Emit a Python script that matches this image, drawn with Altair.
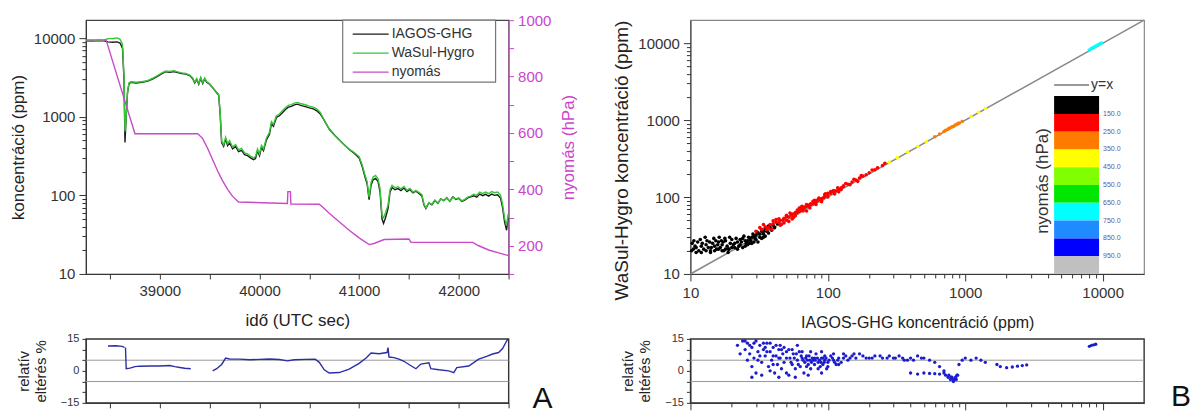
import altair as alt
import pandas as pd

FONT = "Liberation Sans"

# ---------------- Panel A : time series ----------------
t_conc = [38260, 38320, 38380, 38440, 38480, 38530, 38570, 38600, 38625, 38640,
          38650, 38660, 38675, 38690, 38710, 38760, 38820, 38880, 38930, 38980,
          39020, 39060, 39100, 39140, 39180, 39220, 39260, 39300, 39330, 39350,
          39370, 39390, 39410, 39430, 39450, 39470, 39500, 39530, 39560, 39590,
          39605, 39620, 39640, 39660, 39680, 39700, 39730, 39760, 39790, 39820,
          39850, 39880, 39910, 39940, 39960, 39980, 40000, 40020, 40040, 40070,
          40100, 40120, 40140, 40170, 40200, 40230, 40260, 40290, 40320, 40350,
          40380, 40420, 40460, 40500, 40540, 40580, 40610, 40650, 40700, 40750,
          40800, 40850, 40900, 40950, 41000, 41030, 41060, 41080, 41100, 41120,
          41140, 41165, 41190, 41210, 41230, 41245, 41265, 41290, 41310, 41330,
          41360, 41390, 41420, 41450, 41480, 41510, 41540, 41570, 41600, 41630,
          41650, 41670, 41700, 41730, 41760, 41790, 41820, 41850, 41880, 41910,
          41940, 41970, 42000, 42030, 42060, 42090, 42120, 42150, 42180, 42210,
          42240, 42270, 42300, 42330, 42360, 42390, 42420, 42440, 42460, 42480,
          42495]
iagos_ghg = [9300, 9200, 9350, 9300, 9000, 8900, 9000, 8700, 7500, 3000,
             470, 900, 2000, 2650, 2750, 2700, 2750, 2850, 3050, 3300,
             3550, 3750, 3700, 3780, 3650, 3550, 3500, 3350, 3050, 2700,
             3000, 2600, 3100, 2650, 3050, 2750, 2600, 2350, 2100, 1900,
             1100, 470, 420, 520, 430, 470, 390, 420, 360, 375,
             330, 320, 300, 285, 295, 370, 320, 410, 370, 510,
             600, 820, 760, 980, 1030, 1130, 1240, 1330, 1360, 1420,
             1450, 1390, 1350, 1300, 1260, 1180, 1090, 900, 700, 590,
             510, 440, 385, 345, 300, 235, 170, 140, 88, 135,
             158, 165, 150, 110, 50, 44, 52, 68, 110, 126,
             118, 122, 115, 124, 112, 119, 108, 113, 106, 98,
             76, 68, 80, 76, 86, 79, 90, 86, 93, 84,
             96, 89, 92, 84, 87, 93, 96, 99, 95, 104,
             99, 103, 98, 104, 100, 102, 92, 70, 46, 36,
             52]
wasul_hygro = [9350, 9300, 9400, 9450, 9900, 9950, 10100, 9700, 8400, 3300,
               650, 910, 2050, 2700, 2800, 2750, 2800, 2900, 3100, 3380,
               3630, 3830, 3780, 3860, 3730, 3620, 3560, 3400, 3120, 2760,
               3070, 2660, 3170, 2710, 3120, 2810, 2640, 2350, 2120, 1940,
               1140, 490, 440, 550, 455, 497, 412, 443, 380, 396,
               348, 337, 316, 300, 311, 390, 337, 432, 390, 538,
               633, 865, 802, 1034, 1086, 1192, 1306, 1398, 1430, 1495,
               1528, 1465, 1424, 1371, 1330, 1245, 1135, 905, 693, 585,
               506, 440, 388, 352, 310, 246, 180, 150, 95, 146,
               171, 179, 163, 121, 56, 52, 60, 75, 118, 134,
               125, 129, 121, 130, 116, 123, 110, 115, 109, 102,
               78, 69, 81, 77, 87, 80, 90, 86, 93, 84,
               95, 90, 93, 85, 89, 95, 98, 103, 100, 110,
               105, 110, 105, 112, 108, 110, 100, 77, 51, 41,
               58]

t_press = [38260, 38460, 38750, 39380, 39430, 39480, 39530, 39580, 39630, 39680,
           39730, 39790, 40280, 40285, 40310, 40315, 40600, 40650, 40700, 40800,
           40900, 41000, 41100, 41150, 41250, 41500, 41520, 42140, 42200, 42300,
           42400, 42500]
pressure = [930, 930, 597, 597, 580, 545, 505, 465, 430, 400,
            375, 355, 350, 392, 392, 348, 347, 332, 315, 285,
            255, 228, 204, 208, 222, 224, 212, 212, 200, 185,
            175, 165]

rel_seg1_t = [38480, 38560, 38620, 38645]
rel_seg1_v = [11.7, 11.8, 11.5, 11.0]
rel_seg2_t = [38655, 38662, 38700, 38750, 38800, 38900, 39000, 39100, 39150, 39200, 39250, 39310]
rel_seg2_v = [11.0, 1.0, 1.3, 2.0, 2.2, 2.3, 2.3, 2.5, 2.0, 1.6, 1.2, 1.0]
rel_seg3_t = [39530, 39570, 39620, 39660, 39700, 39800, 39900, 40000, 40100, 40200,
              40280, 40350, 40450, 40560, 40600, 40650, 40700, 40800, 40900, 41000,
              41070, 41120, 41200, 41280, 41290, 41300, 41350, 41400, 41450, 41500,
              41570, 41620, 41700, 41720, 41800, 41900, 41950, 41980, 42100, 42200,
              42280, 42340, 42400, 42440, 42480, 42495]
rel_seg3_v = [0.0, 1.0, 3.0, 6.0, 5.6, 5.5, 5.2, 5.4, 5.6, 5.3,
              4.7, 5.2, 5.4, 5.5, 4.0, 0.5, -1.0, -0.8, 0.8, 3.5,
              6.0, 8.4, 8.0, 8.6, 10.9, 6.5, 6.2, 5.5, 4.5, 3.0,
              1.0, 3.2, 3.8, 1.0, 0.5, 0.0, -0.8, 1.5, 2.3, 5.5,
              6.8, 7.9, 8.6, 10.5, 14.0, 15.0]

series_names = ["IAGOS-GHG", "WaSul-Hygro", "nyomás"]
series_colors = ["#1a1a1a", "#35c535", "#c94ac9"]

# ---------------- Panel B : scatter ----------------
sc_black = [(10.5, 21), (11, 22), (11.5, 20), (12, 23), (12.5, 21), (13, 24), (13.5, 22), (14, 20),
            (14.5, 25), (15, 23), (15.5, 21), (16, 26), (16.5, 22), (17, 24), (17.5, 20), (18, 27),
            (18.5, 23), (19, 21), (19.5, 25), (20, 28), (21, 22), (22, 26), (23, 24), (24, 29),
            (25, 23), (26, 27), (27, 25), (28, 30), (29, 26), (30, 32), (11, 19), (12, 19), (13, 20),
            (14, 19), (15, 20), (16, 21), (17, 20), (18, 21), (19, 21), (20, 22), (22, 21), (24, 22),
            (26, 24), (28, 25), (30, 28), (32, 30), (34, 33), (36, 36), (38, 40), (40, 43), (33, 29),
            (35, 31), (10.2, 20), (10.8, 23), (11.3, 26), (12.2, 25), (13.2, 27), (14.2, 22),
            (15.8, 24), (16.8, 27), (18.8, 19), (21, 25), (23, 28), (25, 27), (27, 29), (29, 31),
            (31, 34), (33, 36), (35, 39), (37, 42), (10.3, 25), (10.6, 27), (11.8, 28), (12.8, 30),
            (13.8, 26), (14.8, 29), (15.3, 27), (16.2, 30), (17.3, 26), (17.8, 29), (19.3, 30),
            (20.5, 24), (21.5, 29), (22.5, 23), (23.5, 26), (24.5, 31), (25.5, 25), (26.5, 30),
            (27.5, 27), (28.5, 33), (29.5, 29), (30.5, 35), (32, 33), (34, 36), (36, 40), (31, 26),
            (34, 30), (37, 34), (39, 37), (41, 40), (43, 45)]
sc_red = [(30, 36), (33, 38), (35, 41), (37, 40), (38, 44), (40, 45), (42, 47), (44, 47), (45, 50),
          (47, 50), (48, 53), (50, 55), (52, 55), (54, 58), (55, 60), (57, 60), (58, 63), (60, 66),
          (62, 65), (63, 68), (65, 70), (67, 71), (68, 74), (70, 76), (72, 76), (73, 79), (75, 82),
          (78, 82), (80, 86), (83, 88), (85, 92), (88, 93), (90, 96), (93, 98), (95, 102), (100, 107),
          (105, 112), (110, 117), (115, 121), (120, 127), (125, 132), (130, 137), (140, 147),
          (150, 157), (160, 167), (170, 177), (180, 187), (200, 207), (220, 227), (250, 257),
          (45, 43), (55, 52), (60, 68), (70, 66), (80, 91), (90, 87), (100, 112), (120, 117),
          (65, 76), (75, 80), (85, 93), (50, 58), (58, 57), (42, 51), (48, 46), (95, 108),
          (110, 122), (130, 140), (32, 40), (36, 38), (40, 49), (44, 52), (46, 44), (50, 50),
          (53, 62), (56, 54), (60, 62), (64, 74), (66, 66), (70, 80), (74, 72), (78, 88), (82, 80),
          (86, 97), (90, 90), (96, 110), (100, 100), (105, 118), (112, 110), (118, 132), (125, 125),
          (135, 150), (145, 145), (155, 170), (165, 160), (175, 190), (190, 195), (210, 225),
          (230, 240), (260, 275), (34, 44), (39, 38), (52, 48), (62, 72)]
sc_orange = [(600, 610), (650, 662), (700, 712), (720, 740), (750, 765), (770, 790), (800, 818),
             (820, 830), (850, 868), (880, 895), (900, 915), (950, 960)]
sc_yellow = [(280, 285), (320, 326), (380, 386), (450, 458), (520, 528), (1100, 1120),
             (1250, 1270), (1400, 1420)]
sc_cyan = [(8000, 8200), (8300, 8600), (8600, 8900), (8900, 9200), (9200, 9500), (9500, 9800),
           (9800, 10100)]
group_pressure = {"black": 110, "red": 200, "orange": 300, "yellow": 400, "cyan": 700}

relB_pts = [(22, 12), (24, 14), (25, 10), (26, 13), (27, 8), (28, 11), (29, 6), (30, 14), (31, 9),
            (32, 12), (33, 4), (34, 10), (35, 7), (36, 13), (37, 2), (38, 9), (39, 5), (40, 11),
            (41, -1), (42, 7), (43, 3), (44, 10), (45, 6), (46, 1), (47, 8), (48, 4), (50, 9),
            (52, -2), (53, 6), (55, 3), (56, 8), (58, 1), (60, 5), (62, 9), (63, 2), (65, 6),
            (67, -1), (68, 4), (70, 7), (72, 3), (74, 5), (75, 1), (77, 6), (80, 3), (82, 8),
            (85, 4), (88, 2), (90, 6), (92, 3), (95, 5), (98, 1), (100, 4), (105, 7), (110, 5),
            (115, 3), (120, 6), (125, 4), (130, 8), (140, 5), (150, 7), (160, 6), (170, 8),
            (180, 7), (200, 6), (220, 7), (250, 6), (280, 7), (300, 6), (330, 7), (360, 5),
            (400, 6), (450, 7), (500, 6), (550, 5), (600, 4), (650, 2), (700, 0), (720, -2),
            (750, -3), (780, -4), (800, -3), (820, -5), (850, -3), (880, -2), (900, 3), (950, 5),
            (1000, 6), (1100, 5), (1200, 6), (1300, 5), (1400, 4), (1700, 3), (1800, 2),
            (2000, 1.5), (2200, 1.8), (2400, 2.2), (2600, 2.5), (2800, 2.8), (8000, 11.5),
            (8300, 12), (8600, 12.2), (8900, 12.5), (400, -1), (450, -1.5), (500, -1),
            (550, -1.2), (600, -1.3), (650, -1.5), (26, 5), (28, 2), (30, -1), (32, 7), (35, 11),
            (38, 0), (40, 3), (45, 12), (50, -1), (55, 10), (60, 12), (65, 9), (70, 2), (75, 9),
            (80, 6), (85, 1), (90, 9), (95, 7), (100, 2), (110, 8), (120, 3), (130, 6), (28, -3),
            (33, -2), (44, -3), (58, -3), (72, -2), (90, -1), (23, 8), (25, 14), (27, 12), (29, 13),
            (31, 5), (34, 13), (36, 9), (38, 13), (40, 7), (42, 12), (44, 6), (46, 10), (48, 11),
            (50, 6), (52, 10), (54, 4), (57, 6), (59, 8), (61, 3), (64, 7), (66, 5), (69, 6),
            (71, 5), (73, 7), (76, 4), (78, 5), (81, 5), (84, 6), (87, 5), (89, 4), (92, 6),
            (94, 4), (97, 6), (102, 5), (108, 6), (112, 4), (118, 5), (135, 7), (145, 6), (155, 8),
            (190, 6), (210, 6), (240, 7), (270, 6), (310, 6), (350, 6), (380, 5), (420, 5),
            (480, 6), (700, -1), (760, -2), (790, -3), (810, -4), (830, -4), (860, -4), (870, -2)]

cb_bounds = [150, 250, 350, 450, 550, 650, 750, 850, 950]
cb_colors = ["#000000", "#ff0000", "#ff7b00", "#ffff00", "#7fff00", "#00e600",
             "#00ffff", "#1e8cff", "#0000ff", "#c0c0c0"]

# ---------------- helpers ----------------
time_ticks = list(range(38500, 42501, 500))
log_ticks = [m * 10 ** e for e in range(1, 5) for m in range(1, 10) if m * 10 ** e <= 10000]
log_label = "indexof([10,100,1000,10000], datum.value) >= 0 ? format(datum.value, 'd') : ''"
log_tick_size = {"condition": {"test": "indexof([10,100,1000,10000], datum.value) >= 0", "value": 7}, "value": 4}
one = pd.DataFrame({"k": [0]})

# ================= A top =================
df_conc = pd.DataFrame({"t": t_conc, "iagos": iagos_ghg, "wasul": wasul_hygro})
df_press = pd.DataFrame({"t": t_press, "p": pressure})

time_scale = alt.Scale(domain=[38258, 42500], nice=False, zero=False)
x_top = alt.X("t:Q", scale=time_scale,
              axis=alt.Axis(values=time_ticks, title="idő (UTC sec)", titleFontSize=17, titlePadding=14,
                            labelExpr="datum.value % 1000 == 0 ? format(datum.value, 'd') : ''",
                            labelFontSize=15, tickSize=5, labelPadding=5))
conc_scale = alt.Scale(type="log", domain=[10, 17000], nice=False)
conc_axis = alt.Axis(values=log_ticks, labelExpr=log_label, tickSize=log_tick_size,
                     title="koncentráció (ppm)", titleFontSize=17, titlePadding=6,
                     labelFontSize=15, labelPadding=4)

line_black = alt.Chart(df_conc).mark_line(color=series_colors[0], strokeWidth=1.4).encode(
    x=x_top, y=alt.Y("iagos:Q", scale=conc_scale, axis=conc_axis))
line_green = alt.Chart(df_conc).mark_line(color=series_colors[1], strokeWidth=1.4).encode(
    x=x_top, y=alt.Y("wasul:Q", scale=conc_scale, axis=conc_axis))

mag = "#cc44cc"
press_axis = alt.Axis(orient="right", values=list(range(100, 1001, 100)),
                      labelExpr="datum.value % 200 == 0 ? format(datum.value, 'd') : ''",
                      title="nyomás (hPa)", titleAngle=270, titleBaseline="top", titleFontSize=17,
                      titlePadding=10, labelFontSize=15, labelPadding=4, tickSize=5,
                      domainColor=mag, tickColor=mag, labelColor=mag, titleColor=mag)
line_press = alt.Chart(df_press).mark_line(color=series_colors[2], strokeWidth=1.4).encode(
    x=x_top, y=alt.Y("p:Q", scale=alt.Scale(domain=[100, 1000], nice=False, zero=False), axis=press_axis))

legend_box = alt.Chart(one).mark_rect(fill="white", stroke="#777", strokeWidth=1.2).encode(
    x=alt.value(257), x2=alt.value(410), y=alt.value(0), y2=alt.value(62))
legend_layers = [legend_box]
for i, (nm, col) in enumerate(zip(series_names, series_colors)):
    legend_layers.append(alt.Chart(one).mark_rule(color=col, strokeWidth=1.4).encode(
        x=alt.value(267), x2=alt.value(303), y=alt.value(14 + 19 * i)))
    legend_layers.append(alt.Chart(pd.DataFrame({"name": [nm]})).mark_text(
        align="left", baseline="middle", fontSize=14, color="#333").encode(
        text="name:N", x=alt.value(306), y=alt.value(14 + 19 * i)))

a_top = alt.layer(alt.layer(line_black, line_green), line_press, *legend_layers).resolve_scale(
    y="independent").properties(width=423, height=254, view=alt.ViewBackground(stroke="#444", strokeWidth=1.2))

# ================= A bottom =================
df_rel = pd.DataFrame({
    "t": rel_seg1_t + rel_seg2_t + rel_seg3_t,
    "d": rel_seg1_v + rel_seg2_v + rel_seg3_v,
    "seg": ["s1"] * len(rel_seg1_t) + ["s2"] * len(rel_seg2_t) + ["s3"] * len(rel_seg3_t),
})
rel_scale = alt.Scale(domain=[-15, 15], nice=False)
rel_axis = alt.Axis(values=[-15, -10, -5, 0, 5, 10, 15],
                    labelExpr="datum.value % 15 == 0 ? format(datum.value, 'd') : ''",
                    title=["relatív", "eltérés %"], titleFontSize=15, titlePadding=12,
                    labelFontSize=11, tickSize=4, labelPadding=3)
x_bot = alt.X("t:Q", scale=time_scale, axis=alt.Axis(values=time_ticks, labels=False, title=None, tickSize=5))
lvl_df = pd.DataFrame({"lvl": [5, -5]})

rules_a = alt.Chart(lvl_df).mark_rule(color="#999", strokeWidth=1).encode(
    y=alt.Y("lvl:Q", scale=rel_scale, axis=rel_axis))
line_rel = alt.Chart(df_rel).mark_line(color="#2b2fa6", strokeWidth=1.4).encode(
    x=x_bot, y=alt.Y("d:Q", scale=rel_scale, axis=rel_axis), detail="seg:N")
letter_a = alt.Chart(pd.DataFrame({"s": ["A"]})).mark_text(
    fontSize=30, align="center", baseline="alphabetic", color="#111").encode(
    text="s:N", x=alt.value(457), y=alt.value(69))

a_bot = alt.layer(rules_a, line_rel, letter_a).properties(
    width=423, height=64, view=alt.ViewBackground(stroke="#333", strokeWidth=1.4))

# ================= B top =================
rows = []
for grp, pts in [("black", sc_black), ("red", sc_red), ("yellow", sc_yellow),
                 ("orange", sc_orange), ("cyan", sc_cyan)]:
    for xv, yv in pts:
        rows.append({"x": xv, "y": yv, "p": group_pressure[grp]})
df_sc = pd.DataFrame(rows)
df_id = pd.DataFrame({"x": [10, 20000], "y": [10, 20000]})

xy_scale = alt.Scale(type="log", domain=[10, 20000], nice=False)
x_b = alt.X("x:Q", scale=xy_scale,
            axis=alt.Axis(values=log_ticks, labelExpr=log_label, tickSize=log_tick_size,
                          title="IAGOS-GHG koncentráció (ppm)", titleFontSize=16, titlePadding=14,
                          labelFontSize=15, labelPadding=5))
y_b = alt.Y("y:Q", scale=xy_scale,
            axis=alt.Axis(values=log_ticks, labelExpr=log_label, tickSize=log_tick_size,
                          title="WaSul-Hygro koncentráció (ppm)", titleFontSize=19, titlePadding=6,
                          titleY=140, labelFontSize=15, labelPadding=4))
color_scale = alt.Scale(type="threshold", domain=cb_bounds, range=cb_colors)

id_line = alt.Chart(df_id).mark_line(color="#8a8a8a", strokeWidth=1.6).encode(x=x_b, y=y_b)
scatter = alt.Chart(df_sc).mark_circle(size=13, opacity=1).encode(
    x=x_b, y=y_b, color=alt.Color("p:Q", scale=color_scale, legend=None))

cb_lo = [50] + cb_bounds
cb_hi = cb_bounds + [1050]
df_cb = pd.DataFrame({"lo": cb_lo, "hi": cb_hi, "mid": [(a + b) / 2 for a, b in zip(cb_lo, cb_hi)]})
df_cbl = pd.DataFrame({"b": cb_bounds, "lab": [f"{v:.1f}" for v in cb_bounds]})
cb_scale = alt.Scale(domain=[50, 1050], range=[76, 254], nice=False, zero=False)
cb_rect = alt.Chart(df_cb).mark_rect().encode(
    x=alt.value(364), x2=alt.value(409),
    y=alt.Y("lo:Q", scale=cb_scale, axis=None), y2="hi:Q",
    color=alt.Color("mid:Q", scale=color_scale, legend=None))
cb_text = alt.Chart(df_cbl).mark_text(align="left", baseline="middle", fontSize=7, color="#5a5a9a").encode(
    x=alt.value(413), y=alt.Y("b:Q", scale=cb_scale, axis=None), text="lab:N")
yx_rule = alt.Chart(one).mark_rule(color="#777", strokeWidth=1.5).encode(
    x=alt.value(364), x2=alt.value(399), y=alt.value(65))
yx_text = alt.Chart(pd.DataFrame({"s": ["y=x"]})).mark_text(
    align="left", baseline="middle", fontSize=14, color="#333").encode(
    text="s:N", x=alt.value(401), y=alt.value(65))
cb_title = alt.Chart(pd.DataFrame({"s": ["nyomás (hPa)"]})).mark_text(
    angle=270, align="center", baseline="middle", fontSize=17, color="#333").encode(
    text="s:N", x=alt.value(353), y=alt.value(161))

b_top = alt.layer(alt.layer(id_line, scatter), alt.layer(cb_rect, cb_text), yx_rule, yx_text, cb_title
                  ).resolve_scale(y="independent").properties(
    width=454, height=254, view=alt.ViewBackground(stroke="#888", strokeWidth=1.2))

# ================= B bottom =================
df_relB = pd.DataFrame({"x": [p[0] for p in relB_pts], "d": [p[1] for p in relB_pts]})
x_bb = alt.X("x:Q", scale=xy_scale, axis=alt.Axis(values=log_ticks, labels=False, title=None,
                                                  tickSize=log_tick_size))
rules_b = alt.Chart(lvl_df).mark_rule(color="#999", strokeWidth=1).encode(
    y=alt.Y("lvl:Q", scale=rel_scale, axis=rel_axis))
scatter_b = alt.Chart(df_relB).mark_circle(size=11, opacity=1, color="#1c1ccf").encode(
    x=x_bb, y=alt.Y("d:Q", scale=rel_scale, axis=rel_axis))
letter_b = alt.Chart(pd.DataFrame({"s": ["B"]})).mark_text(
    fontSize=30, align="center", baseline="alphabetic", color="#111").encode(
    text="s:N", x=alt.value(491), y=alt.value(67))

b_bot = alt.layer(rules_b, scatter_b, letter_b).properties(
    width=454, height=64, view=alt.ViewBackground(stroke="#333", strokeWidth=1.4))

chart = alt.concat(a_top, b_top, a_bot, b_bot, columns=2, spacing={"row": 65, "column": 182},
                   bounds="flush", align="each").properties(
    padding={"left": 0, "top": 4, "right": 0, "bottom": 0}
).configure(font=FONT).configure_axis(
    labelFont=FONT, titleFont=FONT, titleFontWeight="normal", grid=False,
    labelFlush=False, labelOverlap=False, labelBound=False,
    domainColor="#333", tickColor="#333", labelColor="#333", titleColor="#222"
).configure_text(font=FONT)

chart.save("out.html", embed_options={"renderer": "svg", "actions": False})
